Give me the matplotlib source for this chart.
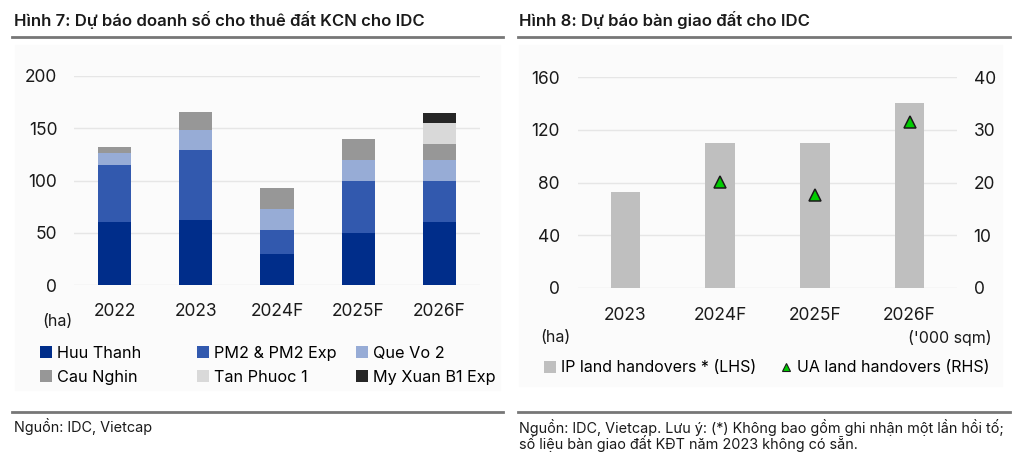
import matplotlib.pyplot as plt
from matplotlib.patches import Rectangle
from matplotlib.lines import Line2D
import numpy as np

plt.rcParams['font.family'] = ['Inter', 'DejaVu Sans']

# left chart data (ha)
years_l = ['2022', '2023', '2024F', '2025F', '2026F']
huu_thanh = [60, 62, 30, 50, 60]
pm2 = [55, 67, 23, 50, 40]
que_vo2 = [11, 19, 20, 20, 20]
cau_nghin = [6, 18, 20, 20, 15]
tan_phuoc1 = [0, 0, 0, 0, 20]
my_xuan = [0, 0, 0, 0, 10]
names_l = ['Huu Thanh', 'PM2 & PM2 Exp', 'Que Vo 2', 'Cau Nghin', 'Tan Phuoc 1', 'My Xuan B1 Exp']
colors_l = ['#002d8a', '#3259ae', '#97acd6', '#979797', '#d9d9d9', '#262626']

# right chart data
years_r = ['2023', '2024F', '2025F', '2026F']
ip_handover = [72.5, 110, 110, 140]          # ha, LHS
ua_handover = [np.nan, 20, 17.7, 31.5]       # '000 sqm, RHS

W, H = 1027, 471
fig = plt.figure(figsize=(W/100, H/100), dpi=100)

def box(x0, y0, x1, y1):
    # pixel box -> figure coords
    return [x0/W, 1 - y1/H, (x1-x0)/W, (y1-y0)/H]

# faint panels
for x0, x1, y1 in [(15, 500, 390), (519, 1002, 386)]:
    fig.patches.append(Rectangle((x0/W, 1-y1/H), (x1-x0)/W, (y1-45)/H,
                                 transform=fig.transFigure, color='#fbfbfb', zorder=-5))

# titles and rules
fig.text(14/W, 1-20/H, 'Hình 7: Dự báo doanh số cho thuê đất KCN cho IDC', fontsize=12,
         fontweight='semibold', va='center', ha='left', color='#1a1a1a')
fig.text(519/W, 1-20/H, 'Hình 8: Dự báo bàn giao đất cho IDC', fontsize=12,
         fontweight='semibold', va='center', ha='left', color='#1a1a1a')
for x0, x1, y in [(12, 503, 37), (518, 1010, 37), (12, 503, 412), (518, 1010, 412)]:
    fig.add_artist(Line2D([x0/W, x1/W], [1-y/H, 1-y/H], color='#777777', lw=2))

fig.text(14/W, 1-427/H, 'Nguồn: IDC, Vietcap', fontsize=10.4, va='center', color='#1a1a1a')
fig.text(519/W, 1-427/H, 'Nguồn: IDC, Vietcap. Lưu ý: (*) Không bao gồm ghi nhận một lần hồi tố;',
         fontsize=10.4, va='center', color='#1a1a1a')
fig.text(519/W, 1-444/H, 'số liệu bàn giao đất KĐT năm 2023 không có sẵn.',
         fontsize=10.4, va='center', color='#1a1a1a')

# ---- left chart
ax1 = fig.add_axes(box(74, 76, 480, 285))
ax1.set_facecolor('none')
x = np.arange(len(years_l))
bottom = np.zeros(len(years_l))
series = [huu_thanh, pm2, que_vo2, cau_nghin, tan_phuoc1, my_xuan]
handles = []
for vals, c, n in zip(series, colors_l, names_l):
    b = ax1.bar(x, vals, width=0.41, bottom=bottom, color=c, label=n, zorder=2)
    handles.append(b)
    bottom += np.array(vals)
ax1.set_xlim(-0.5, len(years_l) - 0.5)
ax1.set_ylim(0, 200)
ax1.set_yticks([0, 50, 100, 150, 200])
ax1.set_xticks(x)
ax1.set_xticklabels(years_l)
ax1.grid(axis='y', color='#e6e6e6', lw=1, zorder=0)
for s in ax1.spines.values():
    s.set_visible(False)
ax1.tick_params(length=0, labelsize=12.5, colors='#1a1a1a')
ax1.tick_params(axis='y', pad=12)
ax1.tick_params(axis='x', pad=13)
fig.text(42/W, 1-321/H, '(ha)', fontsize=11.5, va='center', color='#1a1a1a')

# legend: three fixed columns, row-wise order as in the source
for col, xpix in enumerate([40, 197, 356]):
    hs = [handles[col], handles[col + 3]]
    ls = [names_l[col], names_l[col + 3]]
    fig.legend(hs, ls, loc='upper left', bbox_to_anchor=(xpix/W, 1-346/H),
               frameon=False, fontsize=11.7, handlelength=0.75, handleheight=0.75,
               handletextpad=0.3, labelspacing=0.55, borderaxespad=0, borderpad=0)

# ---- right chart
ax2 = fig.add_axes(box(578, 77, 957, 288))
ax2.set_facecolor('none')
xr = np.arange(len(years_r))
ax2.bar(xr, ip_handover, width=0.31, color='#bfbfbf', zorder=2, label='IP land handovers * (LHS)')
ax2.set_xlim(-0.5, len(years_r) - 0.5)
ax2.set_ylim(0, 160)
ax2.set_yticks([0, 40, 80, 120, 160])
ax2.set_xticks(xr)
ax2.set_xticklabels(years_r)
ax2.grid(axis='y', color='#e6e6e6', lw=1, zorder=0)
for s in ax2.spines.values():
    s.set_visible(False)
ax2.tick_params(length=0, labelsize=12.5, colors='#1a1a1a')
ax2.tick_params(axis='y', pad=13)
ax2.tick_params(axis='x', pad=14)

ax3 = ax2.twinx()
ax3.plot(xr, ua_handover, linestyle='none', marker='^', markersize=8, markerfacecolor='#00cc00',
         markeredgecolor='#1a1a1a', markeredgewidth=1.1, zorder=3, label='UA land handovers (RHS)')
ax3.set_ylim(0, 40)
ax3.set_yticks([0, 10, 20, 30, 40])
for s in ax3.spines.values():
    s.set_visible(False)
ax3.tick_params(length=0, labelsize=12.5, colors='#1a1a1a', pad=12)

fig.text(540/W, 1-338/H, '(ha)', fontsize=11.5, va='center', color='#1a1a1a')
fig.text(992/W, 1-338/H, "('000 sqm)", fontsize=11.5, va='center', ha='right', color='#1a1a1a')

h1, l1 = ax2.get_legend_handles_labels()
h2, l2 = ax3.get_legend_handles_labels()
h2 = [Line2D([], [], linestyle='none', marker='^', markersize=6, markerfacecolor='#00cc00',
             markeredgecolor='#1a1a1a', markeredgewidth=0.8)]
ax3.legend(h1 + h2, l1 + l2, loc='center left', bbox_to_anchor=(544/W, 1-368/H),
           bbox_transform=fig.transFigure, ncol=2, frameon=False, fontsize=11.5,
           handlelength=0.75, handleheight=0.75, handletextpad=0.3, columnspacing=1.5,
           borderaxespad=0, borderpad=0)

fig.savefig('out.png', dpi=100)
